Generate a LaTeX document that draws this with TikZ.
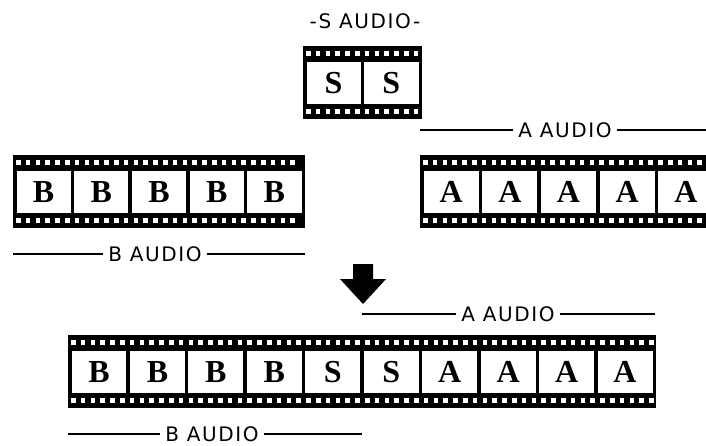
\documentclass[tikz,border=0pt]{standalone}
\usepackage{fontspec}
\newfontfamily\audiofont[LetterSpace=8]{DejaVu Sans}
\newfontfamily\framefont{Liberation Serif}
\usetikzlibrary{positioning}

% film strip: x, y (top), width, frames, letters, name
\newcommand{\filmstrip}[6]{%
  \fill[black] (#1,#2) rectangle ++(#3,73);
  \pgfmathsetmacro{\nholes}{int((#3-9.5)/9.8)}
  \foreach \k in {0,...,\nholes} {
    \fill[white] ({#1+3+\k*9.8},{#2+5}) rectangle ++(4.5,5);
    \fill[white] ({#1+3+\k*9.8},{#2+63}) rectangle ++(4.5,5);
  }
  \pgfmathsetmacro{\pitch}{(#3-3.5)/#4}
  \foreach \ch [count=\i from 0] in {#5} {
    \fill[white] ({#1+3.5+\i*\pitch},{#2+16}) rectangle ({#1+(\i+1)*\pitch},{#2+58});
    \node[frameletter] (#6-\i) at ({#1+1.75+(\i+0.5)*\pitch},{#2+37}) {\ch};
  }
}

\begin{document}
\begin{tikzpicture}[x=1pt,y=-1pt,
    frameletter/.style={font=\framefont\bfseries\fontsize{32}{32}\selectfont,inner sep=0pt},
    audiolabel/.style={font=\audiofont\fontsize{20}{20}\selectfont,inner sep=5pt},
    audioline/.style={line width=1.2pt}]
  \clip (0,0) rectangle (706,445);
  \fill[white] (0,0) rectangle (706,445);

  % S strip
  \node[audiolabel] (sAudio) at (365,21) {-S AUDIO-};
  \filmstrip{303}{46}{119}{2}{S,S}{s}

  % B strip
  \filmstrip{13}{155}{292}{5}{B,B,B,B,B}{b}
  \node[audiolabel] (bAudio) at (155,254) {B AUDIO};
  \coordinate (bStart) at (13,254);
  \coordinate (bEnd) at (305,254);
  \draw[audioline] (bStart) -- (bAudio) (bAudio) -- (bEnd);

  % A strip
  \node[audiolabel] (aAudio) at (565,130) {A AUDIO};
  \coordinate (aStart) at (420,130);
  \coordinate (aEnd) at (706,130);
  \draw[audioline] (aStart) -- (aAudio) (aAudio) -- (aEnd);
  \filmstrip{420}{155}{297}{5}{A,A,A,A,A}{a}

  % Arrow
  \fill (353,264) -- (373,264) -- (373,279) -- (386,279) -- (363,304)
    -- (340,279) -- (353,279) -- cycle;

  % Result strip
  \node[audiolabel] (abAudioA) at (508,314) {A AUDIO};
  \coordinate (abAStart) at (362,314);
  \coordinate (abAEnd) at (655,314);
  \draw[audioline] (abAStart) -- (abAudioA) (abAudioA) -- (abAEnd);
  \filmstrip{68}{335}{588}{10}{B,B,B,B,S,S,A,A,A,A}{ab}
  \node[audiolabel] (abAudioB) at (212,434) {B AUDIO};
  \coordinate (abBStart) at (68,434);
  \coordinate (abBEnd) at (362,434);
  \draw[audioline] (abBStart) -- (abAudioB) (abAudioB) -- (abBEnd);
\end{tikzpicture}
\end{document}
